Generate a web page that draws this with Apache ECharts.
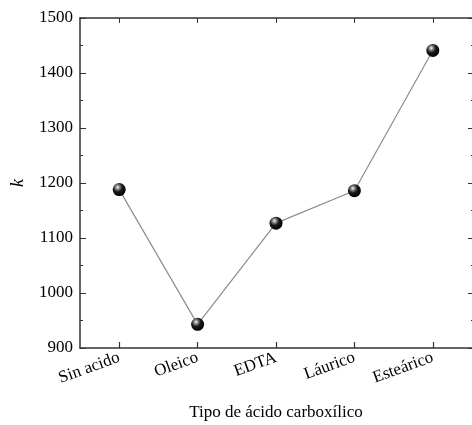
<!DOCTYPE html>
<html>
<head>
<meta charset="utf-8">
<script src="https://cdn.jsdelivr.net/npm/echarts@6/dist/echarts.min.js"></script>
<style>
  html, body { margin: 0; padding: 0; background: #fff; }
  #chart { width: 472px; height: 425px; }
</style>
</head>
<body>
<div id="chart"></div>
<script>
  // datos
  var categorias = ['Sin acido', 'Oleico', 'EDTA', 'Láurico', 'Esteárico'];
  var valoresK = [1188, 943, 1127, 1186, 1441];
  var yTicks = [900, 1000, 1100, 1200, 1300, 1400, 1500];

  var fuente = 'Liberation Serif';
  var ejeColor = '#333';

  var myChart = echarts.init(document.getElementById('chart'));

  var bola = new echarts.graphic.RadialGradient(0.38, 0.32, 0.7, [
    { offset: 0, color: '#ffffff' },
    { offset: 0.18, color: '#9a9a9a' },
    { offset: 0.5, color: '#1a1a1a' },
    { offset: 1, color: '#000000' }
  ]);

  var option = {
    backgroundColor: '#fff',
    animation: false,
    grid: { left: 80, right: 0, top: 18, bottom: 77, outerBoundsMode: 'none', containLabel: false },
    xAxis: [{
      type: 'category',
      data: categorias,
      boundaryGap: true,
      name: 'Tipo de ácido carboxílico',
      nameLocation: 'middle',
      nameGap: 56,
      nameTextStyle: { fontFamily: fuente, fontSize: 17, color: '#000' },
      axisLine: { lineStyle: { color: ejeColor, width: 1.5 } },
      axisTick: { show: true, inside: true, alignWithLabel: true, interval: 0, length: 6, lineStyle: { color: ejeColor, width: 1.2 } },
      axisLabel: { rotate: 20, margin: 9, fontFamily: fuente, fontSize: 17, color: '#000' },
      splitLine: { show: false }
    }, {
      type: 'category',
      data: categorias,
      position: 'top',
      boundaryGap: true,
      axisLine: { lineStyle: { color: ejeColor, width: 1.5 } },
      axisTick: { show: true, inside: true, alignWithLabel: true, interval: 0, length: 5, lineStyle: { color: ejeColor } },
      axisLabel: { show: false },
      splitLine: { show: false }
    }],
    yAxis: [{
      type: 'value',
      min: yTicks[0],
      max: yTicks[yTicks.length - 1],
      interval: 100,
      name: 'k',
      nameLocation: 'middle',
      nameGap: 53,
      nameRotate: 90,
      nameTextStyle: { fontFamily: fuente, fontSize: 18, fontStyle: 'italic', color: '#000' },
      axisLine: { show: true, lineStyle: { color: ejeColor, width: 1.5 } },
      axisTick: { show: true, inside: true, length: 6, lineStyle: { color: ejeColor } },
      minorTick: { show: true, splitNumber: 2, length: 3, lineStyle: { color: ejeColor } },
      axisLabel: { margin: 7, fontFamily: fuente, fontSize: 17, color: '#000', formatter: function (v) { return String(v); } },
      splitLine: { show: false }
    }, {
      type: 'value',
      position: 'right',
      offset: 2,
      min: yTicks[0],
      max: yTicks[yTicks.length - 1],
      interval: 100,
      axisLine: { show: false },
      axisTick: { show: true, inside: true, length: 6, lineStyle: { color: ejeColor } },
      minorTick: { show: true, splitNumber: 2, length: 3, lineStyle: { color: ejeColor } },
      axisLabel: { show: false },
      splitLine: { show: false }
    }],
    series: [{
      type: 'line',
      data: valoresK,
      symbol: 'circle',
      symbolSize: 13,
      lineStyle: { color: '#8c8c8c', width: 1.2 },
      itemStyle: { color: bola, borderWidth: 0 }
    }]
  };

  myChart.setOption(option);
</script>
</body>
</html>
